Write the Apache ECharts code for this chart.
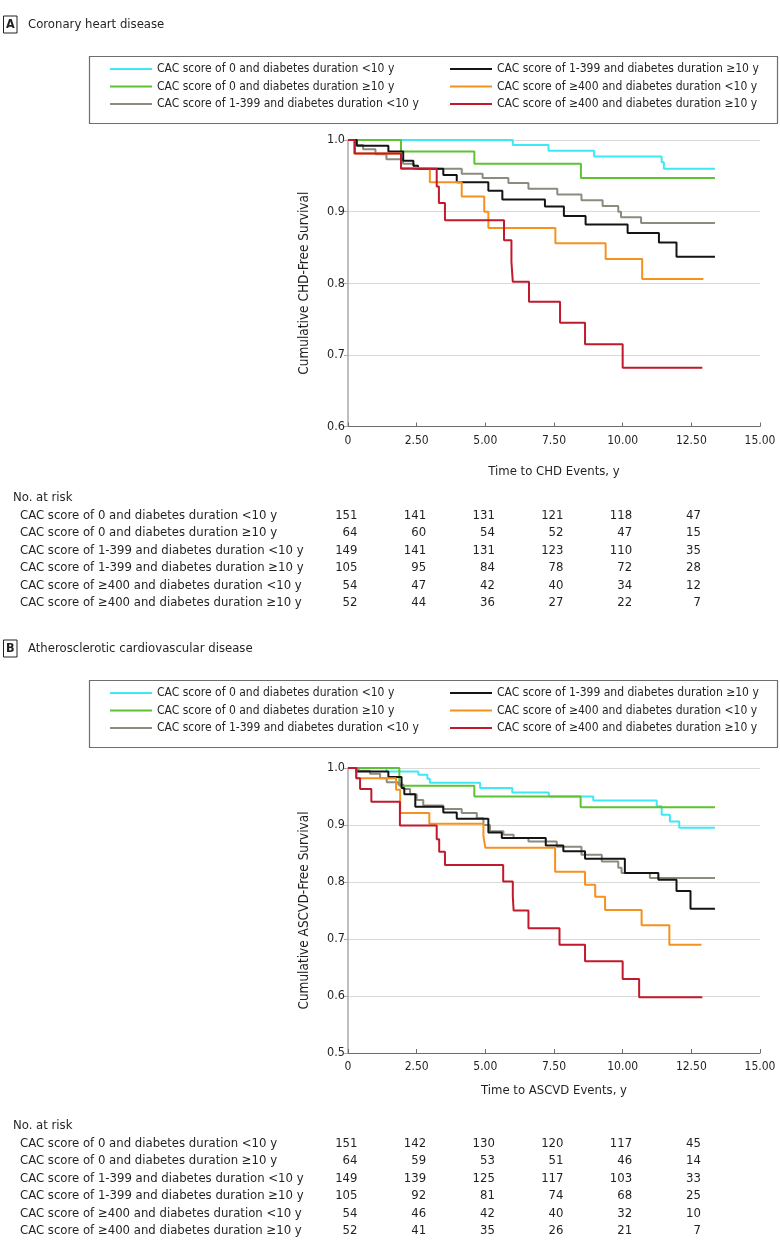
<!DOCTYPE html>
<html>
<head>
<meta charset="utf-8">
<script src="https://cdn.jsdelivr.net/npm/echarts@6/dist/echarts.min.js"></script>
<style>
html,body{margin:0;padding:0;background:#fff;}
#c{width:780px;height:1250px;}
</style>
</head>
<body>
<div id="c"></div>
<script>
// ---------- data ----------
var seriesNames = [
  'CAC score of 0 and diabetes duration <10 y',
  'CAC score of 0 and diabetes duration \u226510 y',
  'CAC score of 1-399 and diabetes duration <10 y',
  'CAC score of 1-399 and diabetes duration \u226510 y',
  'CAC score of \u2265400 and diabetes duration <10 y',
  'CAC score of \u2265400 and diabetes duration \u226510 y'
];
var seriesColors = ['#3fe8f2', '#5ec234', '#8c8b7d', '#141414', '#f5921f', '#c01a2c'];
var xTicks = [0, 2.5, 5, 7.5, 10, 12.5, 15];
var riskTimes = [0, 2.5, 5, 7.5, 10, 12.5];

// Panel A: coronary heart disease  [time, survival]
var chdCac0Lt10 = [[0,1],[6.0,0.993],[7.3,0.985],[8.96,0.977],[11.42,0.969],[11.5,0.960],[13.36,0.960]];
var chdCac0Ge10 = [[0,1],[1.93,0.984],[4.6,0.967],[8.48,0.947],[13.36,0.947]];
var chdCac1Lt10 = [[0,1],[0.3,0.993],[0.55,0.987],[1.0,0.980],[1.4,0.973],[2.0,0.967],[2.4,0.960],[4.14,0.953],[4.9,0.947],[5.84,0.940],[6.57,0.932],[7.62,0.924],[8.5,0.916],[9.27,0.908],[9.84,0.900],[9.94,0.892],[10.67,0.884],[13.36,0.884]];
var chdCac1Ge10 = [[0,1],[0.32,0.992],[1.47,0.984],[2.01,0.971],[2.38,0.964],[2.55,0.960],[3.47,0.951],[3.96,0.941],[5.11,0.929],[5.62,0.917],[7.17,0.907],[7.86,0.894],[8.65,0.882],[10.18,0.870],[11.32,0.857],[11.96,0.837],[13.36,0.837]];
var chdCac400Lt10 = [[0,1],[0.22,0.981],[1.93,0.961],[2.98,0.941],[4.14,0.921],[4.96,0.900],[5.11,0.877],[7.55,0.856],[9.38,0.834],[10.71,0.806],[12.94,0.806]];
var chdCac400Ge10 = [[0,1],[0.25,0.981],[1.93,0.960],[3.23,0.935],[3.31,0.912],[3.53,0.888],[5.68,0.860],[5.95,0.830],[6.0,0.802],[6.59,0.774],[7.72,0.745],[8.63,0.715],[10.0,0.682],[12.9,0.682]];

// Panel B: atherosclerotic cardiovascular disease
var ascvdCac0Lt10 = [[0,1],[1.4,0.994],[2.56,0.988],[2.89,0.981],[2.98,0.974],[4.81,0.965],[5.98,0.957],[7.31,0.950],[8.93,0.943],[11.24,0.933],[11.42,0.918],[11.72,0.906],[12.06,0.895],[13.36,0.895]];
var ascvdCac0Ge10 = [[0,1],[1.87,0.969],[4.6,0.950],[8.47,0.931],[13.36,0.931]];
var ascvdCac1Lt10 = [[0,1],[0.38,0.995],[0.8,0.990],[1.17,0.982],[1.41,0.975],[1.83,0.971],[2.01,0.963],[2.26,0.954],[2.5,0.944],[2.74,0.934],[3.47,0.928],[4.14,0.921],[4.69,0.912],[4.93,0.900],[5.17,0.889],[5.66,0.883],[6.03,0.877],[6.57,0.871],[7.6,0.862],[8.5,0.848],[9.24,0.836],[9.84,0.825],[9.96,0.816],[10.99,0.807],[13.36,0.807]];
var ascvdCac1Ge10 = [[0,1],[0.3,0.994],[1.47,0.984],[1.95,0.965],[2.05,0.954],[2.45,0.932],[3.47,0.922],[3.96,0.911],[5.11,0.887],[5.6,0.877],[7.2,0.864],[7.84,0.854],[8.63,0.841],[10.08,0.816],[11.3,0.804],[11.96,0.784],[12.47,0.753],[13.36,0.753]];
var ascvdCac400Lt10 = [[0,1],[0.3,0.982],[1.75,0.962],[1.9,0.921],[2.96,0.902],[4.93,0.881],[5.0,0.860],[7.54,0.818],[8.63,0.795],[9.0,0.774],[9.36,0.751],[10.69,0.724],[11.7,0.690],[12.87,0.690]];
var ascvdCac400Ge10 = [[0,1],[0.3,0.982],[0.44,0.963],[0.85,0.941],[1.89,0.899],[3.23,0.875],[3.32,0.853],[3.53,0.830],[5.65,0.801],[6.0,0.775],[6.03,0.750],[6.57,0.719],[7.7,0.690],[8.63,0.661],[10.0,0.630],[10.6,0.598],[12.9,0.598]];

// Numbers at risk
var chdRisk = [
  [151,141,131,121,118,47],
  [64,60,54,52,47,15],
  [149,141,131,123,110,35],
  [105,95,84,78,72,28],
  [54,47,42,40,34,12],
  [52,44,36,27,22,7]
];
var ascvdRisk = [
  [151,142,130,120,117,45],
  [64,59,53,51,46,14],
  [149,139,125,117,103,33],
  [105,92,81,74,68,25],
  [54,46,42,40,32,10],
  [52,41,35,26,21,7]
];

// ---------- chart ----------
var FONT = "'DejaVu Sans Condensed','Liberation Sans Narrow','Noto Sans',sans-serif";
var TXT = '#231f20';
var chdSets = [chdCac0Lt10, chdCac0Ge10, chdCac1Lt10, chdCac1Ge10, chdCac400Lt10, chdCac400Ge10];
var ascvdSets = [ascvdCac0Lt10, ascvdCac0Ge10, ascvdCac1Lt10, ascvdCac1Ge10, ascvdCac400Lt10, ascvdCac400Ge10];

var chart = echarts.init(document.getElementById('c'), null, {renderer: 'canvas'});

function xAxisCfg(grid, name, gap) {
  return {
    gridIndex: grid, type: 'value', min: 0, max: 15, interval: 2.5,
    name: name, nameLocation: 'middle', nameGap: gap,
    nameTextStyle: {fontFamily: FONT, fontSize: 13, color: TXT},
    axisLine: {show: true, lineStyle: {color: '#6d6e71', width: 1}},
    axisTick: {show: true, inside: true, length: 4, lineStyle: {color: '#6d6e71'}},
    axisLabel: {fontFamily: FONT, fontSize: 12, color: TXT, margin: 8,
      formatter: function (v) { return v === 0 ? '0' : v.toFixed(2); }},
    splitLine: {show: false}
  };
}
function yAxisCfg(grid, name, min) {
  return {
    gridIndex: grid, type: 'value', min: min, max: 1, interval: 0.1,
    name: name, nameLocation: 'middle', nameGap: 37, nameRotate: 90,
    nameTextStyle: {fontFamily: FONT, fontSize: 13.5, color: TXT},
    axisLine: {show: true, lineStyle: {color: '#a7a9ac', width: 1.5}},
    axisTick: {show: true, inside: false, length: 4, lineStyle: {color: '#a7a9ac'}},
    axisLabel: {fontFamily: FONT, fontSize: 12.5, color: TXT, margin: 3,
      formatter: function (v) { return v.toFixed(1); }},
    splitLine: {show: true, lineStyle: {color: '#d9d9d9', width: 1}}
  };
}

var series = [];
function addSeries(sets, axisIdx) {
  sets.forEach(function (d, i) {
    series.push({
      name: seriesNames[i], type: 'line', step: 'end',
      xAxisIndex: axisIdx, yAxisIndex: axisIdx,
      data: d, showSymbol: false, symbol: 'none',
      lineStyle: {width: 2, color: seriesColors[i]},
      itemStyle: {color: seriesColors[i]},
      z: 2 + i
    });
  });
}
addSeries(chdSets, 0);
addSeries(ascvdSets, 1);

function legendCfg(names, left, top) {
  return {
    data: names, orient: 'vertical', left: left, top: top,
    icon: 'rect', itemWidth: 42, itemHeight: 2, itemGap: 3.5,
    selectedMode: false,
    textStyle: {fontFamily: FONT, fontSize: 12, color: TXT, lineHeight: 14, padding: [0, 0, 0, 0]},
    padding: 0
  };
}

chart.setOption({
  animation: false,
  backgroundColor: '#fff',
  textStyle: {fontFamily: FONT},
  grid: [
    {left: 348, right: 20, top: 140, height: 286.5},
    {left: 348, right: 20, top: 768, height: 285}
  ],
  xAxis: [xAxisCfg(0, 'Time to CHD Events, y', 39), xAxisCfg(1, 'Time to ASCVD Events, y', 31)],
  yAxis: [yAxisCfg(0, 'Cumulative CHD-Free Survival', 0.6), yAxisCfg(1, 'Cumulative ASCVD-Free Survival', 0.5)],
  legend: [
    legendCfg(seriesNames.slice(0, 3), 110, 62),
    legendCfg(seriesNames.slice(3, 6), 450, 62),
    legendCfg(seriesNames.slice(0, 3), 110, 686),
    legendCfg(seriesNames.slice(3, 6), 450, 686)
  ],
  series: series
});

// ---------- titles, legend frames, risk tables ----------
var g = [];
function panelTitle(letter, title, cy) {
  g.push({type: 'rect', shape: {x: 3.5, y: cy - 8.5, width: 13.5, height: 17},
    style: {fill: '#fff', stroke: '#231f20', lineWidth: 1}});
  g.push({type: 'text', x: 10.25, y: cy, style: {text: letter, fontFamily: FONT, fontSize: 12.5, fontWeight: 'bold',
    fill: TXT, align: 'center', verticalAlign: 'middle'}});
  g.push({type: 'text', x: 28, y: cy, style: {text: title, fontFamily: FONT, fontSize: 13, 
    fill: TXT, align: 'left', verticalAlign: 'middle'}});
}
panelTitle('A', 'Coronary heart disease', 24.5);
panelTitle('B', 'Atherosclerotic cardiovascular disease', 648.5);

g.push({type: 'rect', shape: {x: 89.5, y: 56.5, width: 688, height: 67},
  style: {fill: 'none', stroke: '#6d6e71', lineWidth: 1.2}, z: -1});
g.push({type: 'rect', shape: {x: 89.5, y: 680.5, width: 688, height: 67},
  style: {fill: 'none', stroke: '#6d6e71', lineWidth: 1.2}, z: -1});

function riskTable(rows, axisIdx, top) {
  g.push({type: 'text', x: 13, y: top, style: {text: 'No. at risk', fontFamily: FONT, fontSize: 13,
    fill: TXT, align: 'left', verticalAlign: 'middle'}});
  rows.forEach(function (r, i) {
    var y = top + 17.5 * (i + 1);
    g.push({type: 'text', x: 20, y: y, style: {text: seriesNames[i], fontFamily: FONT, fontSize: 13,
      fill: TXT, align: 'left', verticalAlign: 'middle'}});
    r.forEach(function (n, j) {
      var px = chart.convertToPixel({xAxisIndex: axisIdx}, riskTimes[j]);
      g.push({type: 'text', x: px + 9.5, y: y, style: {text: String(n), fontFamily: FONT, fontSize: 13,
        fill: TXT, align: 'right', verticalAlign: 'middle'}});
    });
  });
}
riskTable(chdRisk, 0, 498);
riskTable(ascvdRisk, 1, 1126);

chart.setOption({graphic: {elements: g}});
</script>
</body>
</html>
